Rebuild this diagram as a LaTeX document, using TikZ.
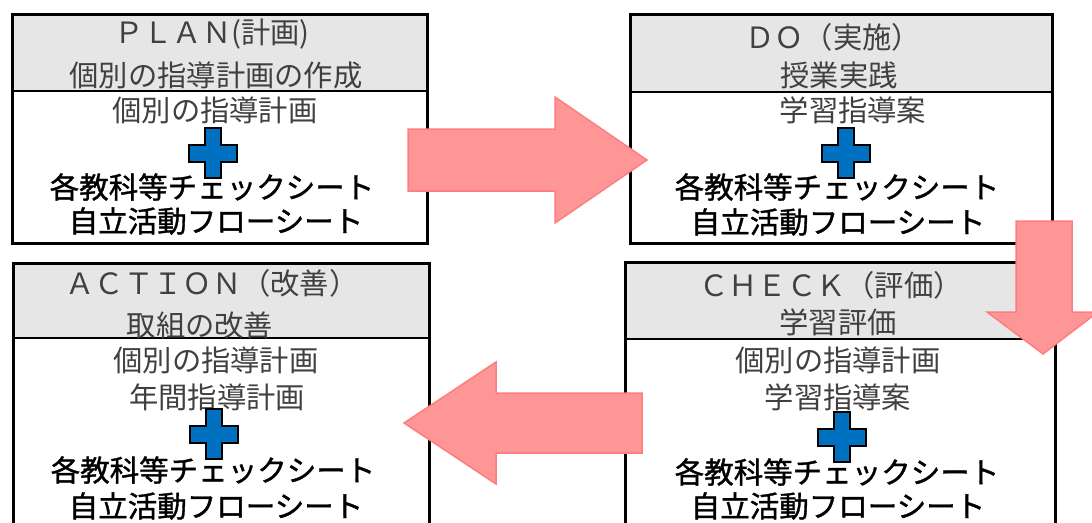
\documentclass[tikz,border=0pt]{standalone}
\usepackage{fontspec}
\newfontfamily\cjk{Noto Sans CJK JP}
\newfontfamily\cjkb[FakeBold=1.2]{Noto Sans CJK JP}
\definecolor{hdrfill}{RGB}{230,230,230}
\definecolor{hdrtext}{RGB}{64,64,64}
\definecolor{arrfill}{RGB}{255,150,150}
\definecolor{arrdraw}{RGB}{255,124,128}
\definecolor{plusblue}{RGB}{0,112,192}
\tikzset{
  boxframe/.style={draw=black, line width=3.3pt},
  hdrline/.style={draw=black, line width=2pt},
  graytxt/.style={inner sep=0pt, text=hdrtext, font=\cjk\fontsize{29.3}{32}\selectfont},
  blacktxt/.style={inner sep=0pt, text=black, font=\cjkb\fontsize{29.5}{32}\selectfont},
  bigarrow/.style={fill=arrfill, draw=arrdraw, line width=1.5pt, line join=miter},
  plusshape/.style={fill=plusblue, draw=black, line width=1.2pt},
}
\newcommand{\plussign}[2]{% center x, y
  \draw[plusshape] (#1-8,#2-25) -- (#1+8,#2-25) -- (#1+8,#2-8) -- (#1+24,#2-8) -- (#1+24,#2+9) -- (#1+8,#2+9) -- (#1+8,#2+25) -- (#1-8,#2+25) -- (#1-8,#2+9) -- (#1-24,#2+9) -- (#1-24,#2-8) -- (#1-8,#2-8) -- cycle;}
\begin{document}
\begin{tikzpicture}[x=1pt,y=-1pt]
\useasboundingbox (0,0) rectangle (1092,522);
\clip (0,0) rectangle (1092,522);
% ---------- PLAN box ----------
\fill[hdrfill] (11,13) rectangle (426,91);
\draw[hdrline] (11,91) -- (426,91);
\node[boxframe, minimum width=415pt, minimum height=229pt, anchor=north west, inner sep=0pt] (plan) at (11,13) {};
\node[graytxt] (plan1) at (212,34) {ＰＬＡＮ(計画)};
\node[graytxt] (plan2) at (216,75) {個別の指導計画の作成};
\node[graytxt] (plan3) at (215,110) {個別の指導計画};
\node[blacktxt] (plan4) at (212,187) {各教科等チェックシート};
\node[blacktxt] (plan5) at (216,221) {自立活動フローシート};
\plussign{213}{153}
% ---------- DO box ----------
\fill[hdrfill] (629,13) rectangle (1051,92);
\draw[hdrline] (629,92) -- (1051,92);
\node[boxframe, minimum width=422pt, minimum height=229pt, anchor=north west, inner sep=0pt] (do) at (629,13) {};
\node[graytxt] (do1) at (833,37) {ＤＯ（実施）};
\node[graytxt] (do2) at (839,75) {授業実践};
\node[graytxt] (do3) at (853,110) {学習指導案};
\node[blacktxt] (do4) at (837,187) {各教科等チェックシート};
\node[blacktxt] (do5) at (838,222) {自立活動フローシート};
\plussign{846}{153}
% ---------- ACTION box ----------
\fill[hdrfill] (12,262) rectangle (428,338);
\draw[hdrline] (12,338) -- (428,338);
\node[boxframe, minimum width=416pt, minimum height=290pt, anchor=north west, inner sep=0pt] (action) at (12,262) {};
\node[graytxt] (act1) at (212,283) {ＡＣＴＩＯＮ（改善）};
\node[graytxt] (act2) at (200,325) {取組の改善};
\node[graytxt] (act3) at (216,360) {個別の指導計画};
\node[graytxt] (act4) at (217,397) {年間指導計画};
\node[blacktxt] (act5) at (213,470) {各教科等チェックシート};
\node[blacktxt] (act6) at (216,506) {自立活動フローシート};
\plussign{214}{434}
% ---------- CHECK box ----------
\fill[hdrfill] (624,261) rectangle (1054,339);
\draw[hdrline] (624,339) -- (1054,339);
\node[boxframe, minimum width=430pt, minimum height=290pt, anchor=north west, inner sep=0pt] (check) at (624,261) {};
\node[graytxt] (chk1) at (831,285) {ＣＨＥＣＫ（評価）};
\node[graytxt] (chk2) at (838,322) {学習評価};
\node[graytxt] (chk3) at (838,360) {個別の指導計画};
\node[graytxt] (chk4) at (838,397) {学習指導案};
\node[blacktxt] (chk5) at (837,472) {各教科等チェックシート};
\node[blacktxt] (chk6) at (838,506) {自立活動フローシート};
\plussign{842}{437}
% ---------- block arrows ----------
\draw[bigarrow] (408,129) -- (555,129) -- (555,97) -- (647,160) -- (555,223) -- (555,191) -- (408,191) -- cycle;
\draw[bigarrow] (1016,221) -- (1072,221) -- (1072,312) -- (1098,312) -- (1043,354) -- (987,312) -- (1016,312) -- cycle;
\draw[bigarrow] (642,393) -- (496,393) -- (496,362) -- (404,423) -- (496,484) -- (496,453) -- (642,453) -- cycle;
\end{tikzpicture}
\end{document}
